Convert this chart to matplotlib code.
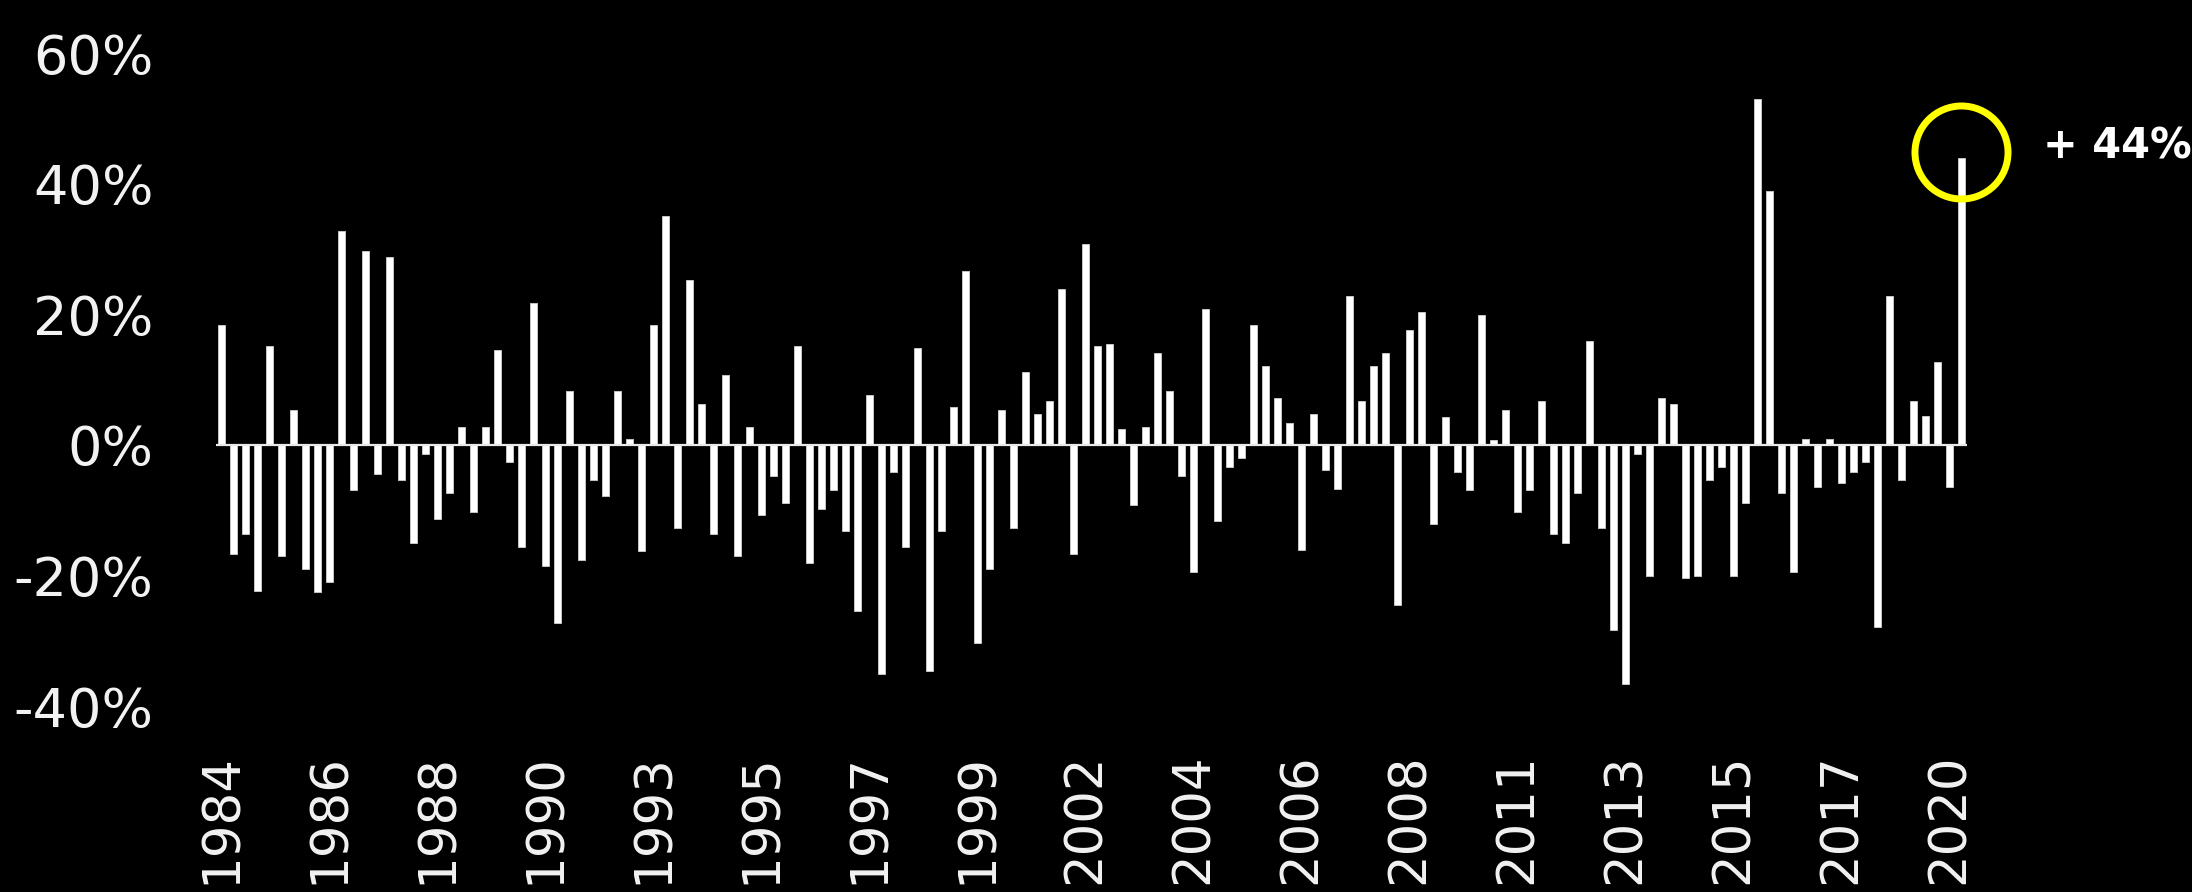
import numpy as np
import matplotlib
matplotlib.use('Agg')
from matplotlib import pyplot as plt
from matplotlib.transforms import offset_copy

plt.rcParams['font.family'] = ['DejaVu Sans']
plt.rcParams['axes.unicode_minus'] = False

# quarterly change, 1984 Q1 .. 2020 Q2 (in %)
values = [18.4, -16.7, -13.7, -22.4, 15.1, -17.0, 5.4, -19.0, -22.5, -21.0,
          32.7, -6.9, 29.7, -4.5, 28.7, -5.4, -15.1, -1.4, -11.4, -7.4,
          2.8, -10.3, 2.8, 14.6, -2.6, -15.6, 21.7, -18.6, -27.3, 8.2,
          -17.6, -5.4, -7.9, 8.2, 0.9, -16.2, 18.4, 35.0, -12.7, 25.3,
          6.2, -13.7, 10.7, -17.0, 2.8, -10.7, -4.7, -8.9, 15.1, -18.1,
          -9.8, -6.9, -13.2, -25.4, 7.7, -35.1, -4.1, -15.6, 14.9, -34.6,
          -13.2, 5.8, 26.7, -30.3, -19.0, 5.3, -12.8, 11.1, 4.7, 6.7,
          23.8, -16.7, 30.7, 15.1, 15.5, 2.4, -9.2, 2.8, 14.1, 8.2,
          -4.8, -19.5, 20.8, -11.7, -3.4, -2.0, 18.4, 12.1, 7.2, 3.3,
          -16.1, 4.7, -3.9, -6.7, 22.8, 6.7, 12.1, 14.1, -24.5, 17.6,
          20.4, -12.2, 4.2, -4.1, -6.9, 19.9, 0.8, 5.3, -10.3, -6.9,
          6.7, -13.7, -15.1, -7.4, 15.9, -12.7, -28.4, -36.6, -1.4, -20.1,
          7.2, 6.2, -20.4, -20.1, -5.4, -3.4, -20.1, -8.9, 53.0, 38.9,
          -7.3, -19.5, 0.9, -6.4, 0.9, -5.9, -4.1, -2.6, -27.9, 22.8,
          -5.4, 6.7, 4.4, 12.7, -6.4, 44.0]
quarters = ['%d Q%d' % (1984 + k // 4, k % 4 + 1) for k in range(len(values))]

tick_step = 9
tick_labels = ['1984', '1986', '1988', '1990', '1993', '1995', '1997', '1999', '2002',
               '2004', '2006', '2008', '2011', '2013', '2015', '2017', '2020']
yticks = [-40, -20, 0, 20, 40, 60]

highlight = len(values) - 1
highlight_text = '+ 44%'

fig = plt.figure(figsize=(21.92, 8.92), dpi=100, facecolor='black')
ax = fig.add_axes([0.0985, 0.2085, 0.799, 0.732])
ax.set_facecolor('black')

x = np.arange(len(values))
ax.bar(x, values, width=0.58, color='white', edgecolor='#d0d0d0', linewidth=0.6, zorder=2)
ax.axhline(0, color='#e8e8e8', linewidth=1.6, zorder=3)

ax.set_xlim(-0.5, len(values) - 0.5)
ax.set_ylim(-40, 60)

ax.set_yticks(yticks)
ax.set_yticklabels(['%d%%' % v for v in yticks])
ax.set_xticks(x[::tick_step])
ax.set_xticklabels(tick_labels, rotation=90)

ax.tick_params(axis='y', length=0, pad=45, labelsize=39, labelcolor='#f2f2f2')
ax.tick_params(axis='x', length=0, pad=34, labelsize=37, labelcolor='#f2f2f2')
for s in ax.spines.values():
    s.set_visible(False)

# highlight last quarter (ring sits slightly above the bar top)
ring_tr = offset_copy(ax.transData, fig=fig, x=0, y=4, units='points')
ax.plot([x[highlight]], [values[highlight]], marker='o', markersize=67,
        markerfacecolor='none', markeredgecolor='#ffff00', markeredgewidth=5,
        zorder=4, clip_on=False, transform=ring_tr)
ax.annotate(highlight_text, xy=(x[highlight], values[highlight]),
            xytext=(59, 8), textcoords='offset points', ha='left', va='center',
            color='white', fontsize=30, fontweight='bold', annotation_clip=False)

fig.savefig('out.png', dpi=100, facecolor='black')
plt.close()
